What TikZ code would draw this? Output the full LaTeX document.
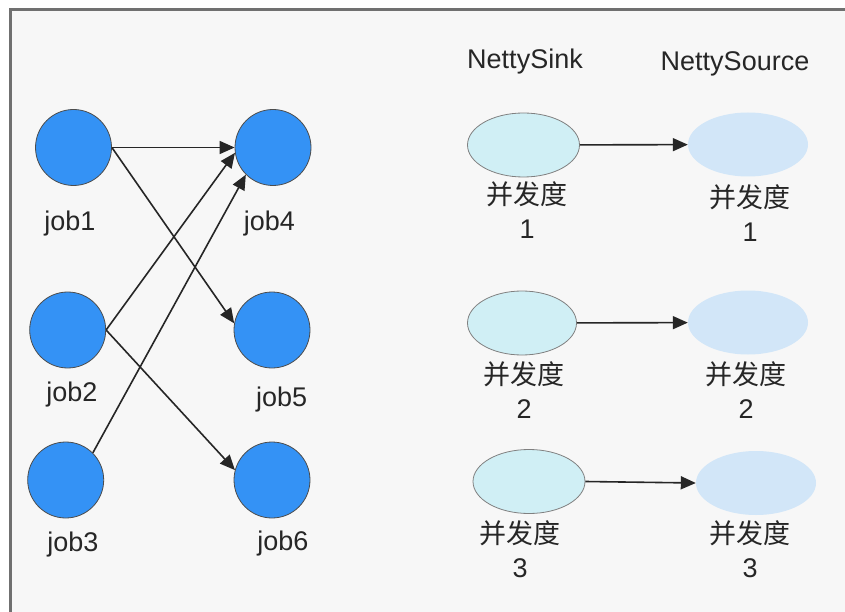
\documentclass[tikz,border=0pt]{standalone}
\usepackage{fontspec}
\setmainfont{Liberation Sans}
\newfontfamily\cjk{Noto Sans CJK SC}
\usepackage{xcolor}
\usetikzlibrary{shapes.geometric, arrows.meta, positioning}
\definecolor{jobblue}{RGB}{52,146,245}
\definecolor{sinkfill}{RGB}{208,239,245}
\definecolor{sourcefill}{RGB}{210,230,248}
\definecolor{framegray}{RGB}{112,112,112}
\definecolor{paper}{RGB}{247,247,247}
\tikzstyle{job} = [circle, draw=black!70, fill=jobblue, minimum size=76pt, inner sep=0pt, line width=0.8pt]
\tikzstyle{sink} = [ellipse, draw=black!50, fill=sinkfill, minimum width=112pt, minimum height=64pt, inner sep=0pt, line width=0.8pt]
\tikzstyle{source} = [ellipse, fill=sourcefill, minimum width=120pt, minimum height=64pt, inner sep=0pt]
\tikzstyle{txt} = [anchor=base, inner sep=0pt, text=black!85, font=\fontsize{27}{33.5}\selectfont]
\tikzstyle{degree} = [txt, align=center]
\tikzstyle{arrow} = [-{Triangle[length=15pt,width=13pt]}, line width=1.6pt, draw=black!85]

\begin{document}
\begin{tikzpicture}[x=1pt, y=-1pt]
\useasboundingbox (0,0) rectangle (845,612);

% frame
\fill[white] (0,0) rectangle (845,612);
\fill[paper] (10,10) rectangle (845,612);
\draw[framegray, line width=3pt] (10,612) -- (10,10) -- (845,10);

% jobs, left column and right column
\node[job] (job1) at (73.5,147.5) {};
\node[job] (job2) at (67.7,330) {};
\node[job] (job3) at (65.7,480) {};
\node[job] (job4) at (273,147.5) {};
\node[job] (job5) at (272,330) {};
\node[job] (job6) at (272,480) {};

\node[txt] (job1_l) at (70,230) {job1};
\node[txt] (job2_l) at (72,401.7) {job2};
\node[txt] (job3_l) at (73,551.7) {job3};
\node[txt] (job4_l) at (269.5,230) {job4};
\node[txt] (job5_l) at (281.7,406) {job5};
\node[txt] (job6_l) at (283,550) {job6};

% sinks and sources
\node[txt] (sink_t) at (525,68.3) {NettySink};
\node[txt] (source_t) at (735,70.7) {NettySource};

\node[sink] (sink1) at (523.5,145) {};
\node[sink, minimum width=109pt] (sink2) at (522,323) {};
\node[sink] (sink3) at (529,481.5) {};
\node[source] (source1) at (748,144.5) {};
\node[source] (source2) at (748,322.5) {};
\node[source] (source3) at (756,483) {};

% labels sit on the baseline of the number line
\node[degree] (sink1_l) at (527,238) {{\cjk 并发度}\\1};
\node[degree] (sink2_l) at (524,418) {{\cjk 并发度}\\2};
\node[degree] (sink3_l) at (520,577) {{\cjk 并发度}\\3};
\node[degree] (source1_l) at (750,241.5) {{\cjk 并发度}\\1};
\node[degree] (source2_l) at (746,418) {{\cjk 并发度}\\2};
\node[degree] (source3_l) at (750,577) {{\cjk 并发度}\\3};

% job arrows
\draw[arrow] (job1.east) -- (job4.west);
\draw[arrow] (job1.east) -- (job5.170);
\draw[arrow] (job2.east) -- (job4.188);
\draw[arrow] (job2.east) -- (job6.165);
\draw[arrow] (job3.45) -- (job4.225);

% sink to source arrows
\draw[arrow] (sink1) -- (source1);
\draw[arrow] (sink2) -- (source2);
\draw[arrow] (sink3.east) -- (source3.west);

\end{tikzpicture}
\end{document}
